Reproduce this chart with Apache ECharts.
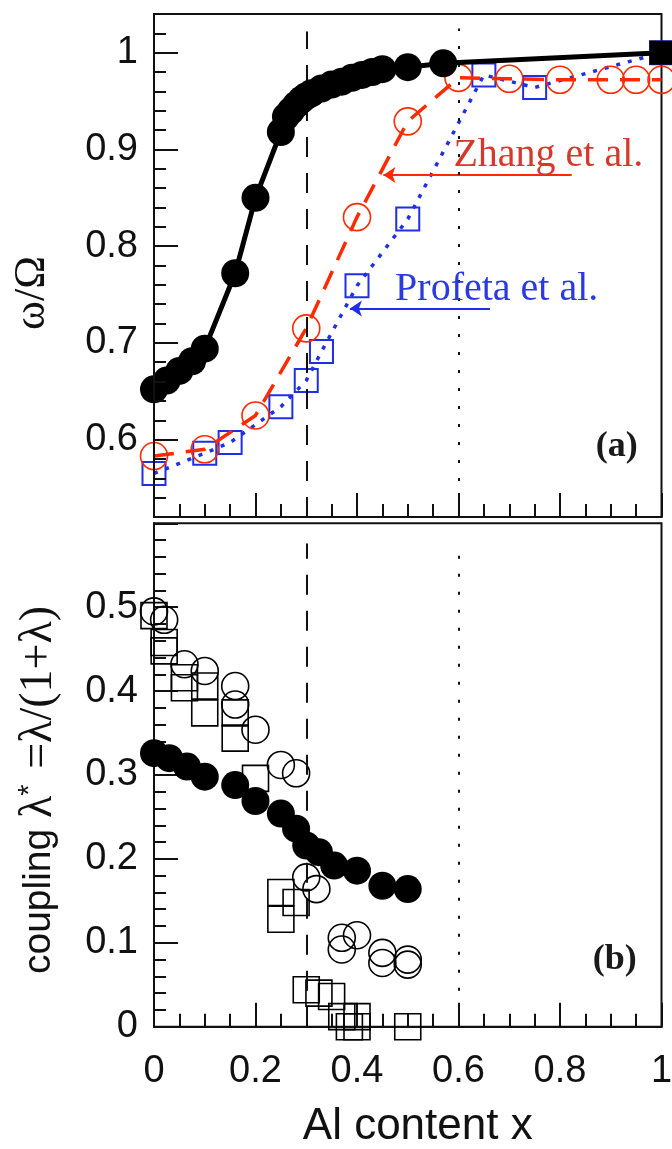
<!DOCTYPE html>
<html>
<head>
<meta charset="utf-8">
<script src="https://cdn.jsdelivr.net/npm/echarts@6/dist/echarts.min.js"></script>
<style>html,body{margin:0;padding:0;background:#fff}#c{width:672px;height:1149px}</style>
</head>
<body>
<div id="c"></div>
<script>
// ---------- panel (a): omega / Omega ----------
const topBlackX = [0, 0.025, 0.05, 0.075, 0.1, 0.16, 0.2, 0.25, 0.26, 0.27, 0.28, 0.29, 0.3, 0.31, 0.33, 0.35, 0.37, 0.39, 0.41, 0.43, 0.45, 0.5, 0.57, 1.0];
const topBlackY = [0.652, 0.661, 0.671, 0.681, 0.694, 0.772, 0.850, 0.918, 0.934, 0.940, 0.946, 0.951, 0.955, 0.958, 0.963, 0.967, 0.970, 0.974, 0.977, 0.980, 0.983, 0.985, 0.989, 1.0];
const zhangX = [0, 0.1, 0.2, 0.3, 0.4, 0.5, 0.6, 0.7, 0.8, 0.9, 0.95, 1.0];
const zhangY = [0.583, 0.590, 0.625, 0.715, 0.830, 0.929, 0.974, 0.973, 0.972, 0.972, 0.972, 0.972];
const profetaX = [0, 0.1, 0.15, 0.25, 0.3, 0.33, 0.4, 0.5, 0.65, 0.75, 1.0];
const profetaY = [0.565, 0.586, 0.597, 0.634, 0.661, 0.691, 0.759, 0.828, 0.977, 0.964, 1.0];

// ---------- panel (b): coupling ----------
const botFilledX = [0, 0.03, 0.065, 0.1, 0.16, 0.2, 0.25, 0.28, 0.3, 0.325, 0.355, 0.4, 0.45, 0.5];
const botFilledY = [0.326, 0.320, 0.310, 0.298, 0.288, 0.269, 0.254, 0.236, 0.216, 0.208, 0.192, 0.186, 0.168, 0.164];
const botCircleX = [0, 0.02, 0.06, 0.1, 0.16, 0.16, 0.2, 0.25, 0.28, 0.3, 0.32, 0.37, 0.37, 0.4, 0.45, 0.45, 0.5, 0.5];
const botCircleY = [0.495, 0.485, 0.432, 0.424, 0.406, 0.384, 0.354, 0.312, 0.302, 0.178, 0.164, 0.106, 0.092, 0.109, 0.088, 0.076, 0.080, 0.074];
const botSquareX = [0, 0.02, 0.02, 0.06, 0.06, 0.1, 0.1, 0.16, 0.16, 0.2, 0.25, 0.25, 0.28, 0.3, 0.325, 0.35, 0.37, 0.385, 0.4, 0.4, 0.5];
const botSquareY = [0.49, 0.458, 0.448, 0.416, 0.404, 0.406, 0.374, 0.374, 0.344, 0.296, 0.16, 0.128, 0.148, 0.044, 0.040, 0.036, 0.012, 0.0, 0.012, 0.0, 0.0];

// ---------- axes / reference lines ----------
const topYLabels = [0.6, 0.7, 0.8, 0.9, 1.0];
const refLineX = [0.3, 0.6];

// annotation anchors (data space)
const zhangArrow = [[0.823, 0.8735], [0.452, 0.8735]];
const profetaArrow = [[0.662, 0.7356], [0.386, 0.7356]];
const zhangTextPos = [0.59, 0.894];
const profetaTextPos = [0.475, 0.755];
const panelATextPos = [0.912, 0.5924];
const panelBTextPos = [0.908, 0.08];

const RED = '#ff2a00';
const BLUE = '#1f2fe6';
const INK = '#111111';

const zip = (xs, ys) => xs.map((x, i) => [x, ys[i]]);

const chart = echarts.init(document.getElementById('c'), null, {renderer: 'canvas'});

const baseX = {
  type: 'value', min: 0, max: 1, interval: 0.2, position: 'bottom',
  axisLine: {show: true, lineStyle: {color: INK, width: 2}},
  axisTick: {show: true, inside: true, length: 24, lineStyle: {color: INK, width: 2}},
  minorTick: {show: true, splitNumber: 4, length: 13, lineStyle: {color: INK, width: 2}},
  splitLine: {show: false}, minorSplitLine: {show: false}
};

const labelFont = {fontFamily: 'Liberation Sans', fontSize: 38, color: INK, lineHeight: 38};

const option = {
  animation: false,
  backgroundColor: '#fff',
  grid: [
    {left: 154, top: 14, width: 507.5, height: 503, show: true, borderColor: INK, borderWidth: 2, outerBoundsMode: 'none'},
    {left: 154, top: 523.3, width: 507.5, height: 503.4, show: true, borderColor: INK, borderWidth: 2, outerBoundsMode: 'none'}
  ],
  xAxis: [
    Object.assign({}, baseX, {gridIndex: 0, axisLabel: {show: false}}),
    Object.assign({}, baseX, {
      gridIndex: 1,
      axisLabel: Object.assign({show: true, margin: 26, formatter: v => String(+v.toFixed(2))}, labelFont),
      name: 'Al content x', nameLocation: 'middle', nameGap: 78,
      nameTextStyle: {fontFamily: 'Liberation Sans', fontSize: 44, color: INK, lineHeight: 44, padding: [0, 0, 0, 20]}
    })
  ],
  yAxis: [
    { // major ticks + labels of panel (a)
      type: 'value', gridIndex: 0, position: 'left', min: 0.52, max: 1.04, interval: 0.02, z: 6,
      axisLine: {show: true, lineStyle: {color: INK, width: 2}},
      axisTick: {show: true, inside: true, length: 24, customValues: topYLabels, lineStyle: {color: INK, width: 2}},
      axisLabel: Object.assign({show: true, margin: 16, customValues: topYLabels, padding: [0, 0, 18, 0]}, labelFont),
      splitLine: {show: false},
      name: 'ω/Ω', nameLocation: 'middle', nameGap: 100,
      nameTextStyle: {fontFamily: 'Liberation Serif', fontSize: 44, color: INK, lineHeight: 44, padding: [0, 55, 0, 0]}
    },
    { // minor ticks of panel (a)
      type: 'value', gridIndex: 0, position: 'left', min: 0.52, max: 1.04, interval: 0.02, z: 6,
      axisLine: {show: true, lineStyle: {color: INK, width: 2}},
      axisTick: {show: true, inside: true, length: 12, lineStyle: {color: INK, width: 2}},
      axisLabel: {show: false}, splitLine: {show: false}
    },
    { // panel (b)
      type: 'value', gridIndex: 1, position: 'left', min: 0, max: 0.6, interval: 0.1,
      axisLine: {show: true, lineStyle: {color: INK, width: 2}},
      axisTick: {show: true, inside: true, length: 24, lineStyle: {color: INK, width: 2}},
      minorTick: {show: true, splitNumber: 5, length: 12, lineStyle: {color: INK, width: 2}},
      axisLabel: Object.assign({show: true, margin: 16, showMaxLabel: false, padding: [0, 0, 18, 0],
        formatter: v => String(+(+v).toFixed(2))}, labelFont),
      splitLine: {show: false}, minorSplitLine: {show: false},
      name: '{a|coupling }{b|λ}{c|*}{b| =λ/(1+λ)}', nameLocation: 'middle', nameGap: 91,
      nameTextStyle: {
        color: INK, padding: [0, 30, 0, 0],
        rich: {
          a: {fontFamily: 'Liberation Sans', fontSize: 39, color: INK, lineHeight: 48},
          b: {fontFamily: 'Liberation Serif', fontSize: 46, color: INK, lineHeight: 48},
          c: {fontFamily: 'Liberation Sans', fontSize: 29, color: INK, lineHeight: 48, verticalAlign: 'top', padding: [0, 4, 14, 0]}
        }
      }
    }
  ],
  series: [
    {
      name: 'Profeta', type: 'line', xAxisIndex: 0, yAxisIndex: 0, z: 3,
      data: zip(profetaX, profetaY),
      symbol: 'rect', symbolSize: 23, showAllSymbol: true,
      lineStyle: {color: BLUE, width: 3.5, type: [4, 8]},
      itemStyle: {color: 'rgba(0,0,0,0)', borderColor: BLUE, borderWidth: 2, opacity: 1},
      clip: false,
      markLine: {
        silent: true, label: {show: false}, symbol: ['none', 'arrow'], symbolSize: 12,
        lineStyle: {color: BLUE, width: 2, type: 'solid'},
        data: [[{coord: profetaArrow[0]}, {coord: profetaArrow[1]}]]
      }
    },
    {
      name: 'Zhang', type: 'line', xAxisIndex: 0, yAxisIndex: 0, z: 4,
      data: zip(zhangX, zhangY),
      symbol: 'circle', symbolSize: 27, showAllSymbol: true,
      lineStyle: {color: RED, width: 3.5, type: [20, 12]},
      itemStyle: {color: 'rgba(0,0,0,0)', borderColor: RED, borderWidth: 1.6, opacity: 1},
      clip: false,
      markLine: {
        silent: true, label: {show: false}, symbol: ['none', 'arrow'], symbolSize: 12,
        lineStyle: {color: RED, width: 2, type: 'solid'},
        data: [
          [{coord: zhangArrow[0]}, {coord: zhangArrow[1]}],
          [{coord: [refLineX[0], 0.52], lineStyle: {color: INK, width: 2, type: [20, 16]}, symbol: 'none'}, {coord: [refLineX[0], 1.022], symbol: 'none'}],
          [{coord: [refLineX[1], 0.52], lineStyle: {color: INK, width: 2, type: [3, 15]}, symbol: 'none'}, {coord: [refLineX[1], 1.025], symbol: 'none'}]
        ]
      }
    },
    {
      name: 'Present', type: 'line', xAxisIndex: 0, yAxisIndex: 0, z: 5,
      data: zip(topBlackX, topBlackY).map((p, i, a) => i === a.length - 1 ? {value: p, symbol: 'rect', symbolSize: 24} : p),
      symbol: 'circle', symbolSize: 28, showAllSymbol: true,
      lineStyle: {color: '#000', width: 5},
      itemStyle: {color: '#000', opacity: 1},
      clip: false
    },
    {
      name: 'b-squares', type: 'scatter', xAxisIndex: 1, yAxisIndex: 2, z: 3,
      data: zip(botSquareX, botSquareY),
      symbol: 'rect', symbolSize: 26,
      itemStyle: {color: 'rgba(0,0,0,0)', borderColor: '#000', borderWidth: 1.6, opacity: 1},
      clip: false,
      markLine: {
        silent: true, label: {show: false}, symbol: ['none', 'none'],
        data: [
          [{coord: [refLineX[0], 0], lineStyle: {color: INK, width: 2, type: [20, 16]}}, {coord: [refLineX[0], 0.576]}],
          [{coord: [refLineX[1], 0], lineStyle: {color: INK, width: 2, type: [3, 15]}}, {coord: [refLineX[1], 0.576]}]
        ]
      }
    },
    {
      name: 'b-circles', type: 'scatter', xAxisIndex: 1, yAxisIndex: 2, z: 4,
      data: zip(botCircleX, botCircleY),
      symbol: 'circle', symbolSize: 27,
      itemStyle: {color: 'rgba(0,0,0,0)', borderColor: '#000', borderWidth: 1.6, opacity: 1},
      clip: false
    },
    {
      name: 'b-filled', type: 'scatter', xAxisIndex: 1, yAxisIndex: 2, z: 5,
      data: zip(botFilledX, botFilledY),
      symbol: 'circle', symbolSize: 28,
      itemStyle: {color: '#000', opacity: 1},
      clip: false
    }
  ]
};

chart.setOption(option);

const pz = chart.convertToPixel({gridIndex: 0}, zhangTextPos);
const pp = chart.convertToPixel({gridIndex: 0}, profetaTextPos);
const pa = chart.convertToPixel({gridIndex: 0}, panelATextPos);
const pb = chart.convertToPixel({gridIndex: 1}, panelBTextPos);

chart.setOption({
  graphic: [
    {type: 'text', x: pz[0], y: pz[1], z: 10, style: {text: 'Zhang et al.', fill: '#d8382c', font: '40px "Liberation Serif"', align: 'left', verticalAlign: 'middle'}},
    {type: 'text', x: pp[0], y: pp[1], z: 10, style: {text: 'Profeta et al.', fill: '#2a3ae0', font: '40px "Liberation Serif"', align: 'left', verticalAlign: 'middle'}},
    {type: 'text', x: pa[0], y: pa[1], z: 10, style: {text: '(a)', fill: '#1a1a1a', font: 'bold 36px "Liberation Serif"', align: 'center', verticalAlign: 'middle'}},
    {type: 'text', x: pb[0], y: pb[1], z: 10, style: {text: '(b)', fill: '#1a1a1a', font: 'bold 36px "Liberation Serif"', align: 'center', verticalAlign: 'middle'}}
  ]
});
</script>
</body>
</html>
